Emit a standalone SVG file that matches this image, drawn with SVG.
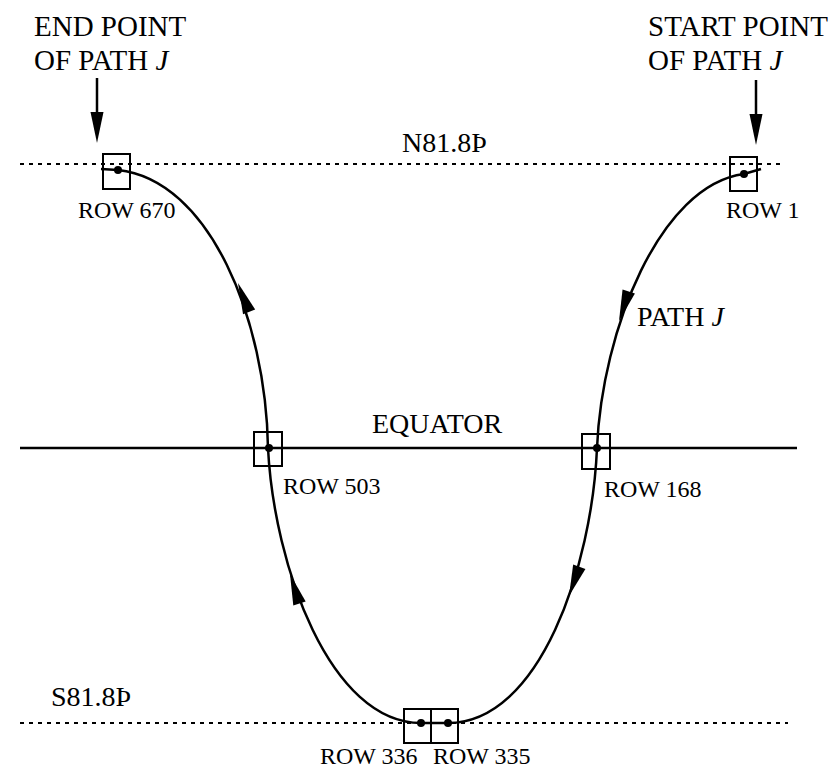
<svg xmlns="http://www.w3.org/2000/svg" xmlns:xlink="http://www.w3.org/1999/xlink" width="831" height="769" viewBox="0 0 831 769">
<style>
text{font-family:"Liberation Serif","Times New Roman",serif;fill:#000}
.h{font-size:29px}
.m{font-size:28px}
.r{font-size:24px}
.dot{stroke:#000;stroke-width:2;stroke-dasharray:4 5;fill:none}
.box{fill:none;stroke:#000;stroke-width:2}
.curve{fill:none;stroke:#000;stroke-width:2.5}
.it{font-style:italic}
</style>
<defs>
<path id="ah" d="M0,0 L-31,-6.5 L-31,6.5 Z" fill="#000"/>
</defs>
<rect width="831" height="769" fill="#fff"/>
<g id="lines">
<line class="dot" x1="20" y1="164" x2="782" y2="164"/>
<line x1="20" y1="448" x2="797" y2="448" stroke="#000" stroke-width="2.5"/>
<line class="dot" x1="20" y1="723" x2="788" y2="723"/>
</g>
<g id="labels">
<text class="h" x="34" y="36">END POINT</text>
<text class="h" x="34" y="70">OF PATH <tspan class="it">J</tspan></text>
<text class="h" x="648" y="36">START POINT</text>
<text class="h" x="648" y="70">OF PATH <tspan class="it">J</tspan></text>
<text class="m" x="402" y="152">N81.8Þ</text>
<text class="m" x="372" y="433">EQUATOR</text>
<text class="m" x="51" y="706">S81.8Þ</text>
<text class="m" x="637" y="326">PATH <tspan class="it">J</tspan></text>
</g>
<g id="connectors">
<line x1="97" y1="78" x2="97" y2="115" stroke="#000" stroke-width="2.5"/>
<use xlink:href="#ah" href="#ah" transform="translate(97,143) rotate(90)"/>
<line x1="756" y1="80" x2="756" y2="117" stroke="#000" stroke-width="2.5"/>
<use xlink:href="#ah" href="#ah" transform="translate(756,145) rotate(90)"/>
<path class="curve" d="M101,169 L118,170 C210,180 266,320 268,448 C274,566 330,723 421,723 L448,723 C540,723 592,566 597,448 C602,330 660,185 744,174 L761,169"/>
<use xlink:href="#ah" href="#ah" transform="translate(238,283) rotate(-111)"/>
<use xlink:href="#ah" href="#ah" transform="translate(290,574) rotate(-107.8)"/>
<use xlink:href="#ah" href="#ah" transform="translate(569,596) rotate(109.4)"/>
<use xlink:href="#ah" href="#ah" transform="translate(619,321) rotate(108.3)"/>
</g>
<g id="row670">
<rect class="box" x="103" y="154" width="27" height="35"/>
<circle cx="118" cy="170" r="4"/>
<text class="r" x="78" y="218">ROW 670</text>
</g>
<g id="row1">
<rect class="box" x="730" y="157" width="27" height="34"/>
<circle cx="744" cy="174" r="4"/>
<text class="r" x="726" y="218">ROW 1</text>
</g>
<g id="row503">
<rect class="box" x="254" y="432" width="28" height="34"/>
<circle cx="269" cy="448" r="4"/>
<text class="r" x="283" y="494">ROW 503</text>
</g>
<g id="row168">
<rect class="box" x="582" y="434" width="28" height="35"/>
<circle cx="597" cy="448" r="4"/>
<text class="r" x="604" y="497">ROW 168</text>
</g>
<g id="row336">
<rect class="box" x="404" y="709" width="27" height="34"/>
<circle cx="421" cy="723" r="4"/>
<text class="r" x="320" y="764">ROW 336</text>
</g>
<g id="row335">
<rect class="box" x="431" y="709" width="27" height="34"/>
<circle cx="448" cy="723" r="4"/>
<text class="r" x="433" y="764">ROW 335</text>
</g>
</svg>
